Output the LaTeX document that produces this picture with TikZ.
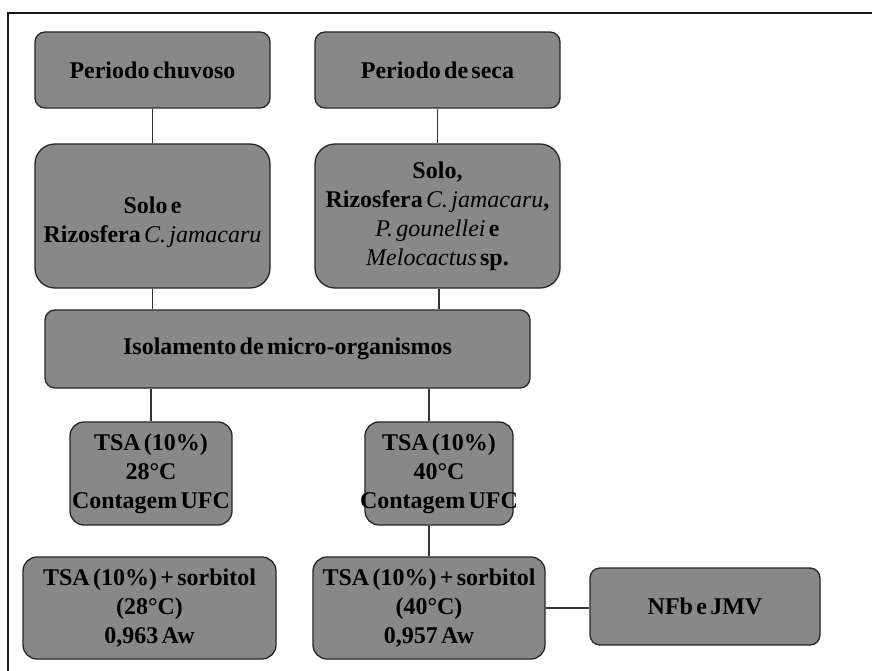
\documentclass[tikz,border=0pt]{standalone}
\usepackage{fontspec}
\setmainfont{Liberation Serif}[WordSpace=0.55]
\begin{document}
\begin{tikzpicture}[x=1pt,y=-1pt,
  boxstyle/.style={draw=black!85, line width=1.3pt, fill=gray!88!white!95!black, rounded corners=#1,
     inner sep=0pt, align=center, font=\fontsize{24}{29}\selectfont\bfseries},
  boxstyle/.default=10pt,
  conn/.style={draw=black!80, line width=1.1pt}]
\useasboundingbox (0,0) rectangle (872,671);
\fill[white] (0,0) rectangle (872,671);
\draw[line width=1.8pt, black!90] (8,680) -- (8,13) -- (880,13);
\node[boxstyle, minimum width=235pt, minimum height=76pt] (b1) at (152.5,70) {Periodo chuvoso};
\node[boxstyle, minimum width=245pt, minimum height=76pt] (b2) at (437.5,70) {Periodo de seca};
\node[boxstyle=20pt, minimum width=235pt, minimum height=144pt] (b3) at (152.5,216) {\rule{0pt}{30pt}Solo e\\Rizosfera \textit{\mdseries C. jamacaru}};
\node[boxstyle=20pt, minimum width=245pt, minimum height=144pt] (b4) at (437.5,216) {Solo,\\Rizosfera \textit{\mdseries C. jamacaru},\\\textit{\mdseries P. gounellei} e\\\textit{\mdseries Melocactus} sp.};
\node[boxstyle, minimum width=485pt, minimum height=78pt] (b5) at (287.5,349) {Isolamento de micro-organismos};
\node[boxstyle=14pt, minimum width=162pt, minimum height=103pt, inner xsep=-6pt] (b6) at (151,473.5) {TSA (10\%)\\28°C\\Contagem UFC};
\node[boxstyle=14pt, minimum width=148pt, minimum height=103pt, inner xsep=-8pt] (b7) at (439,473.5) {TSA (10\%)\\40°C\\Contagem UFC};
\node[boxstyle=14pt, minimum width=253pt, minimum height=102pt] (b8) at (149.5,608) {TSA (10\%) + sorbitol\\(28°C)\\0,963 Aw};
\node[boxstyle=14pt, minimum width=232pt, minimum height=102pt] (b9) at (429,608) {TSA (10\%) + sorbitol\\(40°C)\\0,957 Aw};
\node[boxstyle, minimum width=230pt, minimum height=77pt] (b10) at (705,606.5) {NFb e JMV};
\draw[conn] (b1.south) -- (b3.north);
\draw[conn] (b2.south) -- (b4.north);
\draw[conn] (b3.south) -- (b3.south |- b5.north);
\draw[conn] (b4.south) ++(1.5,0) coordinate (c4) -- (c4 |- b5.north);
\draw[conn] (b6.north) -- (b6.north |- b5.south);
\draw[conn] (b7.north -| b9) -- (b5.south -| b9);
\draw[conn] (b9.north) -- (b9.north |- b7.south);
\draw[conn] (b9.east) -- (b9.east -| b10.west);
\end{tikzpicture}
\end{document}
